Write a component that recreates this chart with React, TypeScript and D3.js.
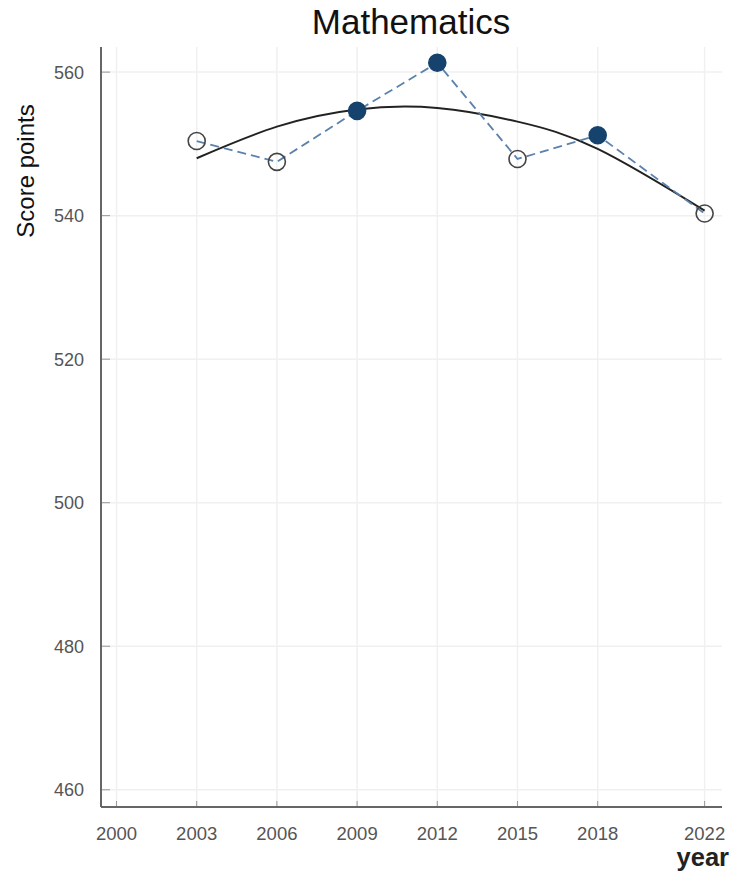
import React from "react";
import * as d3 from "d3";

const years = [2003, 2006, 2009, 2012, 2015, 2018, 2022];
const scores = [550.4, 547.5, 554.6, 561.3, 547.9, 551.2, 540.3];
const significant = [false, false, true, true, false, true, false];
const trendYears = [2003, 2006, 2009, 2012, 2015, 2018, 2022];
const trendValues = [548.0, 552.4, 554.8, 555.0, 553.1, 549.3, 540.7];
const xTicks = [2000, 2003, 2006, 2009, 2012, 2015, 2018, 2022];
const yTicks = [460, 480, 500, 520, 540, 560];

const W = 732;
const H = 877;
const left = 101;
const right = 722;
const top = 47;
const bottom = 807;

export default function App() {
  const x = d3.scaleLinear().domain([1999.42, 2022.65]).range([left, right]);
  const y = d3.scaleLinear().domain([457.6, 563.5]).range([bottom, top]);

  const dashed = d3
    .line<number>()
    .x((_, i) => x(years[i]))
    .y((d) => y(d))(scores) as string;

  const trend = d3
    .line<number>()
    .x((_, i) => x(trendYears[i]))
    .y((d) => y(d))
    .curve(d3.curveNatural)(trendValues) as string;

  const font = "Liberation Sans, Arial, sans-serif";

  return (
    <svg
      width={W}
      height={H}
      style={{ position: "absolute", left: 0, top: 0, background: "#fff" }}
      fontFamily={font}
    >
      {/* grid */}
      {xTicks.map((t) => (
        <line key={"gx" + t} x1={x(t)} x2={x(t)} y1={top} y2={bottom} stroke="#f0f0f0" strokeWidth={1.5} />
      ))}
      {yTicks.map((t) => (
        <line key={"gy" + t} x1={left} x2={right} y1={y(t)} y2={y(t)} stroke="#f0f0f0" strokeWidth={1.5} />
      ))}
      {/* ticks */}
      {xTicks.map((t) => (
        <line key={"tx" + t} x1={x(t)} x2={x(t)} y1={bottom} y2={bottom - 6} stroke="#999" strokeWidth={1} />
      ))}
      {yTicks.map((t) => (
        <line key={"ty" + t} x1={left} x2={left + 9} y1={y(t)} y2={y(t)} stroke="#999" strokeWidth={1} />
      ))}
      {/* axes */}
      <line x1={left} x2={left} y1={top} y2={bottom} stroke="#666" strokeWidth={2} />
      <line x1={left} x2={right} y1={bottom} y2={bottom} stroke="#666" strokeWidth={2} />
      {/* tick labels */}
      {xTicks.map((t) => (
        <text key={"lx" + t} x={x(t)} y={839.5} textAnchor="middle" fontSize={18.5} fill="#555">
          {t}
        </text>
      ))}
      {yTicks.map((t) => (
        <text key={"ly" + t} x={84} y={y(t) + 6.5} textAnchor="end" fontSize={18} fill="#555">
          {t}
        </text>
      ))}
      {/* trend */}
      <path d={trend} fill="none" stroke="#222" strokeWidth={2} />
      {/* dashed series */}
      <path d={dashed} fill="none" stroke="#5a82ad" strokeWidth={1.8} strokeDasharray="9,5" />
      {scores.map((s, i) => (
        <circle
          key={"c" + i}
          cx={x(years[i])}
          cy={y(s)}
          r={8.5}
          fill={significant[i] ? "#15436e" : "none"}
          stroke={significant[i] ? "#15436e" : "#444"}
          strokeWidth={1.6}
        />
      ))}
      {/* titles */}
      <text x={411} y={34} textAnchor="middle" fontSize={35} fill="#111">
        Mathematics
      </text>
      <text
        transform={`translate(34,171) rotate(-90)`}
        textAnchor="middle"
        fontSize={24}
        fill="#111"
      >
        Score points
      </text>
      <text x={729} y={866} textAnchor="end" fontSize={25.5} fill="#222" fontWeight="bold">
        year
      </text>
    </svg>
  );
}
